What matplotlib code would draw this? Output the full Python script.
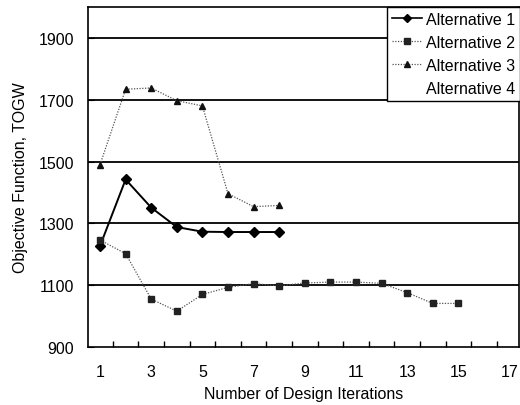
import matplotlib
matplotlib.use("Agg")
import matplotlib.pyplot as plt
from matplotlib.lines import Line2D

plt.rcParams['font.family'] = ['Liberation Sans', 'DejaVu Sans']

iter_a1 = [1, 2, 3, 4, 5, 6, 7, 8]
alt1 = [1227, 1442, 1351, 1288, 1273, 1272, 1272, 1272]
iter_a2 = [1, 2, 3, 4, 5, 6, 7, 8, 9, 10, 11, 12, 13, 14, 15]
alt2 = [1246, 1202, 1055, 1016, 1070, 1093, 1105, 1098, 1107, 1110, 1110, 1106, 1076, 1041, 1041]
iter_a3 = [1, 2, 3, 4, 5, 6, 7, 8]
alt3 = [1490, 1734, 1738, 1697, 1680, 1396, 1354, 1358]
labels = ["Alternative 1", "Alternative 2", "Alternative 3", "Alternative 4"]
x_ticklabels = [1, 3, 5, 7, 9, 11, 13, 15, 17]
y_ticks = [900, 1100, 1300, 1500, 1700, 1900]

fig = plt.figure(figsize=(5.2, 4.06), dpi=100)
ax = fig.add_axes([88/520, 58/406, 431/520, 340/406])

for y in y_ticks[1:]:
    ax.axhline(y, color='black', lw=1.3, zorder=1)

ax.plot(iter_a1, alt1, color='black', lw=1.4, marker='D', ms=5, zorder=3)
ax.plot(iter_a2, alt2, color='#555555', lw=0.9, ls=(0, (1, 1.2)), marker='s', ms=4.5,
        mfc='#222222', mec='#222222', zorder=3)
ax.plot(iter_a3, alt3, color='#555555', lw=0.9, ls=(0, (1, 1.2)), marker='^', ms=5,
        mfc='#111111', mec='#111111', zorder=3)

ax.set_xlim(0.53, 17.37)
ax.set_ylim(900, 2000)
ax.set_xticks(x_ticklabels)
ax.set_xticklabels([str(v) for v in x_ticklabels])
ax.set_xticks([v + 0.5 for v in range(1, 17)], minor=True)
ax.tick_params(axis='x', which='major', length=0, pad=12, labelsize=11.5)
ax.tick_params(axis='x', which='minor', direction='in', length=4, width=1)
ax.set_yticks(y_ticks)
ax.tick_params(axis='y', which='major', direction='in', length=4, pad=10, labelsize=11.5)
ax.set_xlabel("Number of Design Iterations", fontsize=11.5, labelpad=5)
ax.set_ylabel("Objective Function, TOGW", fontsize=11.5, labelpad=8)
for s in ax.spines.values():
    s.set_linewidth(1.2)

handles = [
    Line2D([], [], color='black', lw=1.2, marker='D', ms=4),
    Line2D([], [], color='#555555', lw=0.9, ls=(0, (1, 1.2)), marker='s', ms=4, mfc='#222222', mec='#222222'),
    Line2D([], [], color='#555555', lw=0.9, ls=(0, (1, 1.2)), marker='^', ms=4.5, mfc='#111111', mec='#111111'),
    Line2D([], [], color='none', lw=0),
]
leg = fig.legend(handles, labels, loc='upper left', bbox_to_anchor=(387/520, 398/406),
                 fontsize=11.5, frameon=True, fancybox=False, framealpha=1,
                 edgecolor='black', handlelength=1.9, handletextpad=0.25,
                 labelspacing=0.5, borderpad=0.3, borderaxespad=0)
leg.get_frame().set_linewidth(1.0)
leg.set_zorder(5)

fig.savefig("out.png", dpi=100)
